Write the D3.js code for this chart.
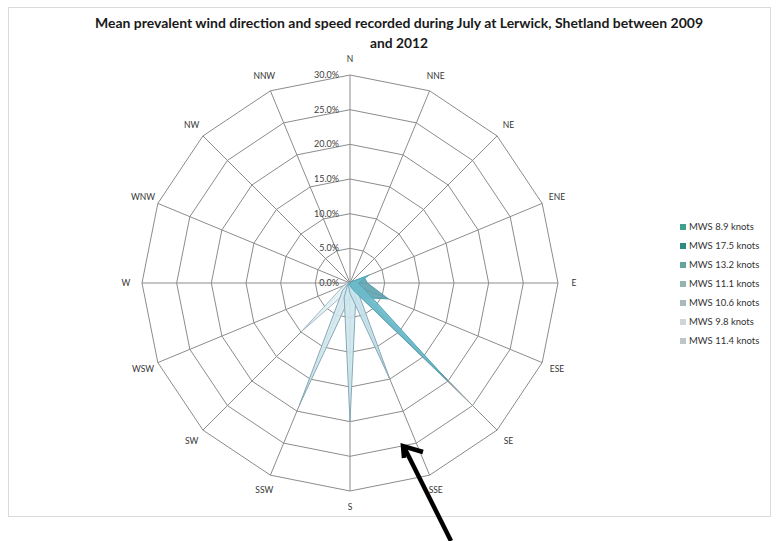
<!DOCTYPE html>
<html>
<head>
<meta charset="utf-8">
<script src="https://cdn.jsdelivr.net/npm/d3@7"></script>
<style>
  html, body { margin: 0; padding: 0; background: #fff; }
  svg { display: block; }
  text { font-family: Lato, "Liberation Sans", sans-serif; }
</style>
</head>
<body>
<svg id="chart" width="778" height="541"></svg>
<script>
// Compass directions, clockwise from north
const directions = ["N", "NNE", "NE", "ENE", "E", "ESE", "SE", "SSE",
                    "S", "SSW", "SW", "WSW", "W", "WNW", "NW", "NNW"];

// Frequency (%) of each direction, one list per mean wind speed class
const mws89  = [0, 0, 0.2, 3.0, 1.2, 2.2, 20.0, 1.0, 0.4, 0.2, 0, 0, 0, 0, 0, 0];
const mws175 = [0, 0, 0.2, 2.2, 2.5, 6.0, 3.0, 0.6, 0.2, 0, 0, 0, 0, 0, 0, 0];
const mws132 = [0, 0, 0, 0.3, 0.5, 1.0, 1.5, 15.0, 1.5, 0.5, 0.2, 0, 0, 0, 0, 0];
const mws111 = [0, 0, 0, 0, 0.2, 0.5, 1.0, 2.2, 20.0, 2.2, 0.5, 0, 0, 0, 0, 0];
const mws106 = [0, 0, 0, 0, 0, 0.2, 0.5, 1.0, 2.0, 19.0, 1.5, 0.3, 0, 0, 0, 0];
const mws98  = [0, 0, 0, 0, 0, 0, 0.2, 0.4, 1.0, 1.5, 10.0, 1.0, 0.3, 0, 0, 0];
const mws114 = [0, 0, 0, 0.2, 0.3, 1.0, 25.0, 1.0, 0.3, 0, 0, 0, 0, 0, 0, 0];

const seriesNames = ["MWS 8.9 knots", "MWS 17.5 knots", "MWS 13.2 knots", "MWS 11.1 knots",
                     "MWS 10.6 knots", "MWS 9.8 knots", "MWS 11.4 knots"];
const seriesValues = [mws89, mws175, mws132, mws111, mws106, mws98, mws114];

// Painting order of the filled areas (back to front)
const drawOrder = [6, 5, 4, 3, 2, 1, 0];

const tickValues = [0, 5, 10, 15, 20, 25, 30];
const tickLabels = ["0.0%", "5.0%", "10.0%", "15.0%", "20.0%", "25.0%", "30.0%"];

const titleLines = ["Mean prevalent wind direction and speed recorded during July at Lerwick, Shetland between 2009",
                    "and 2012"];

// Colours for each speed class: inner and outer gradient stops, legend swatch
const innerColours  = ["#3cc3d8", "#2fb0c4", "#a6d3e2", "#b2dae6", "#b9dde8", "#d3ebf2", "#b8c6cc"];
const outerColours  = ["#6cbccc", "#5fa2ae", "#c4e2ec", "#cde6ee", "#d2e8ef", "#e6f3f7", "#a5b2b8"];
const swatchColours = ["#3f9f8c", "#2f8a80", "#63a59e", "#93b3b1", "#a9b9bf", "#cfd6d9", "#bcc6ca"];
const strokeColours = ["#4fa6b8", "#4a9aab", "#87a9b6", "#87a9b6", "#87a9b6", "#9fb9c3", "#8a9ba2"];

const svg = d3.select("#chart");
const cx = 350, cy = 283, R = 208;

// Chart frame
svg.append("rect")
  .attr("x", 8.5).attr("y", 7.5).attr("width", 762).attr("height", 509)
  .attr("fill", "#fff").attr("stroke", "#dadada").attr("stroke-width", 1);

// Title
svg.append("text")
  .attr("x", 399).attr("y", 28)
  .attr("text-anchor", "middle")
  .attr("font-size", 13).attr("font-weight", "bold").attr("fill", "#1a1a1a")
  .attr("textLength", 608).attr("lengthAdjust", "spacingAndGlyphs")
  .text(titleLines[0]);
svg.append("text")
  .attr("x", 399).attr("y", 48)
  .attr("text-anchor", "middle")
  .attr("font-size", 13).attr("font-weight", "bold").attr("fill", "#1a1a1a")
  .attr("textLength", 58).attr("lengthAdjust", "spacingAndGlyphs")
  .text(titleLines[1]);

const angle = d3.scaleLinear().domain([0, directions.length]).range([0, 2 * Math.PI]);
const radius = d3.scaleLinear().domain([0, 30]).range([0, R]);

const g = svg.append("g").attr("transform", `translate(${cx},${cy})`);

// Gradients (radial from the centre) for the filled areas
const defs = svg.append("defs");
seriesNames.forEach((name, i) => {
  const grad = defs.append("radialGradient")
    .attr("id", "grad" + i)
    .attr("gradientUnits", "userSpaceOnUse")
    .attr("cx", cx).attr("cy", cy).attr("r", R * 0.85);
  grad.append("stop").attr("offset", "0%").attr("stop-color", innerColours[i]);
  grad.append("stop").attr("offset", "100%").attr("stop-color", outerColours[i]);
});

const ring = d3.lineRadial()
  .angle((d, i) => angle(i))
  .radius(d => radius(d))
  .curve(d3.curveLinearClosed);

// Concentric 16-sided grid rings
g.append("g").selectAll("path")
  .data(tickValues.filter(t => t > 0))
  .join("path")
  .attr("d", t => ring(directions.map(() => t)))
  .attr("fill", "none").attr("stroke", "#8c8c8c").attr("stroke-width", 1);

// Spokes
g.append("g").selectAll("line")
  .data(directions)
  .join("line")
  .attr("x1", 0).attr("y1", 0)
  .attr("x2", (d, i) => radius(30) * Math.sin(angle(i)))
  .attr("y2", (d, i) => -radius(30) * Math.cos(angle(i)))
  .attr("stroke", "#8c8c8c").attr("stroke-width", 1);

// Filled areas, one per speed class
g.append("g").selectAll("path")
  .data(drawOrder)
  .join("path")
  .attr("d", i => ring(seriesValues[i]))
  .attr("fill", i => `url(#grad${i})`)
  .attr("fill-opacity", 0.9)
  .attr("stroke", i => strokeColours[i]).attr("stroke-width", 1)
  .attr("stroke-linejoin", "round");

// Radial axis labels along the north spoke
g.append("g").selectAll("text")
  .data(tickValues)
  .join("text")
  .attr("x", -11)
  .attr("y", t => -radius(t))
  .attr("dy", "0.35em")
  .attr("text-anchor", "end")
  .attr("font-size", 9).attr("fill", "#404040")
  .text((t, i) => tickLabels[i]);

// Direction labels
g.append("g").selectAll("text")
  .data(directions)
  .join("text")
  .attr("x", (d, i) => (R + 16) * Math.sin(angle(i)))
  .attr("y", (d, i) => -(R + 16) * Math.cos(angle(i)))
  .attr("dy", "0.35em")
  .attr("text-anchor", "middle")
  .attr("font-size", 8.5).attr("fill", "#333")
  .text(d => d);

// Legend
const legend = svg.append("g").selectAll("g")
  .data(seriesNames)
  .join("g")
  .attr("transform", (d, i) => `translate(680,${227 + i * 19})`);
legend.append("rect")
  .attr("x", 0).attr("y", -3).attr("width", 6).attr("height", 6)
  .attr("fill", (d, i) => swatchColours[i]);
legend.append("text")
  .attr("x", 9).attr("y", 0).attr("dy", "0.35em")
  .attr("font-size", 9.5).attr("fill", "#333")
  .text(d => d);

// Pointer arrow below the rose
svg.append("path")
  .attr("d", "M451,541 L405,449")
  .attr("stroke", "#000").attr("stroke-width", 4.5).attr("fill", "none");
svg.append("path")
  .attr("d", "M404,458 L403,446 L423,452")
  .attr("stroke", "#000").attr("stroke-width", 4.5).attr("fill", "none")
  .attr("stroke-linejoin", "miter").attr("stroke-linecap", "butt");
</script>
</body>
</html>
